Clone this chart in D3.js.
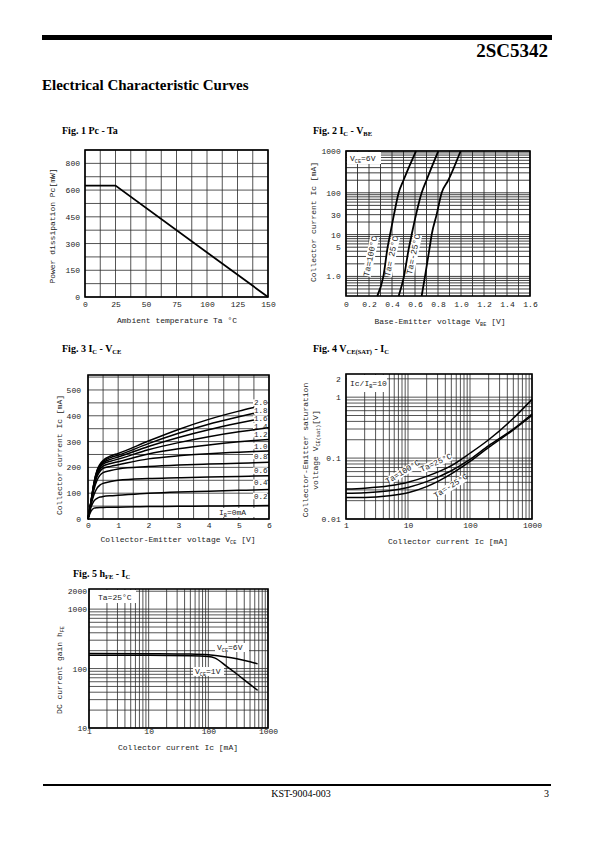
<!DOCTYPE html>
<html><head><meta charset="utf-8">
<script src="https://cdn.jsdelivr.net/npm/d3@7"></script>
<style>
body{margin:0;background:#fff}
svg{display:block}
</style></head><body>
<svg id="page" width="595" height="842"></svg>
<script>
// ---------------- DATA ----------------
// Fig 1  Pc - Ta
const taTicks = [0, 25, 50, 75, 100, 125, 150];
const pcTickVals = [0, 150, 300, 450, 600, 750];
const pcTickLabels = ["0", "150", "300", "450", "600", "800"];
const taCurve = [0, 25, 150];
const pcCurve = [625, 625, 0];

// Fig 2  Ic - Vbe
const vbeTicks = [0, 0.2, 0.4, 0.6, 0.8, 1.0, 1.2, 1.4, 1.6];
const vbeTickLabels = ["0", "0.2", "0.4", "0.6", "0.8", "1.0", "1.2", "1.4", "1.6"];
const ic2TickVals = [1, 5, 10, 30, 100, 1000];
const ic2TickLabels = ["1.0", "5", "10", "30", "100", "1000"];
const ic2Pts = [0.34, 1, 5, 10, 30, 100, 200, 1000];
const vbe100 = [0.272, 0.325, 0.362, 0.383, 0.417, 0.458, 0.50, 0.609];
const vbe25 = [0.458, 0.504, 0.548, 0.571, 0.609, 0.658, 0.70, 0.803];
const vbeM25 = [0.658, 0.687, 0.728, 0.745, 0.788, 0.832, 0.89, 0.997];
const fig2Labels = ["Ta=100°C", "Ta= 25°C", "Ta=-25°C"];

// Fig 3  Ic - Vce
const vceTicks = [0, 1, 2, 3, 4, 5, 6];
const ic3Ticks = [0, 100, 200, 300, 400, 500];
const vce3 = [0, 0.1, 0.2, 0.3, 0.4, 0.5, 0.75, 1, 2, 3, 4, 5, 5.5, 6];
const ibLabels = ["0.2", "0.4", "0.6", "0.8", "1.0", "1.2", "1.4", "1.6", "1.8", "2.0"];
const icIb02 = [0, 30, 42, 44, 45, 45, 46, 46, 48, 49, 50, 51, 51.5, 52];
const icIb04 = [0, 45, 70, 80, 85, 87, 90, 92, 100, 105, 108, 111, 112.5, 114];
const icIb06 = [0, 55, 95, 120, 132, 138, 145, 150, 157, 160, 163, 165, 166.5, 168];
const icIb08 = [0, 60, 115, 150, 170, 180, 188, 194, 203, 209, 213, 216, 218, 220];
const icIb10 = [0, 62, 125, 165, 185, 196, 204, 210, 233, 245, 253, 259, 262, 264];
const icIb12 = [0, 64, 130, 172, 193, 205, 215, 222, 252, 272, 287, 299, 304, 308];
const icIb14 = [0, 66, 135, 178, 200, 213, 224, 232, 268, 296, 319, 338, 346, 354];
const icIb16 = [0, 67, 138, 183, 205, 218, 231, 240, 281, 316, 346, 372, 384, null];
const icIb18 = [0, 68, 140, 186, 209, 222, 238, 247, 292, 332, 367, 396, 410, null];
const icIb20 = [0, 69, 142, 189, 213, 227, 244, 254, 302, 347, 386, 418, 432, null];

// Fig 4  Vce(sat) - Ic
const ic4Ticks = [1, 10, 100, 1000];
const vsatTickVals = [0.01, 0.1, 1, 2];
const vsatTickLabels = ["0.01", "0.1", "1", "2"];
const ic4 = [1, 2, 5, 10, 20, 50, 100, 200, 500, 1000];
const vsat100 = [0.031, 0.032, 0.035, 0.040, 0.050, 0.075, 0.12, 0.20, 0.45, 0.92];
const vsat25 = [0.0265, 0.027, 0.029, 0.033, 0.041, 0.062, 0.095, 0.16, 0.30, 0.53];
const vsatM25 = [0.0225, 0.0225, 0.024, 0.027, 0.034, 0.055, 0.088, 0.15, 0.29, 0.50];

// Fig 5  hFE - Ic
const ic5Ticks = [1, 10, 100, 1000];
const hfeTickVals = [10, 100, 1000, 2000];
const ic5v6 = [1, 10, 50, 100, 200, 300, 500, 670];
const hfe6V = [180, 178, 175, 170, 157, 146, 130, 120];
const ic5v1 = [1, 10, 50, 100, 130, 200, 300, 500, 670];
const hfe1V = [168, 167, 165, 160, 150, 110, 81, 54, 43];

// ---------------- DRAWING ----------------
const svg = d3.select("#page");
const SERIF = '"Liberation Serif","Times New Roman",serif';
const MONO = '"Liberation Mono","DejaVu Sans Mono",monospace';
const TXT = "#222";

function rich(g, x, y, parts, attrs) {
  const t = g.append("text").attr("x", x).attr("y", y);
  Object.entries(attrs || {}).forEach(([k, v]) => t.attr(k, v));
  let shifted = 0;
  parts.forEach(p => {
    const s = t.append("tspan").text(p[0]);
    if (p[1] === "sub") {
      s.attr("font-size", "0.65em").attr("dy", 2 - shifted); shifted = 2;
    } else if (shifted) {
      s.attr("dy", -shifted); shifted = 0;
    }
  });
  return t;
}

function logGrid(domain) {
  const out = [];
  const a = Math.floor(Math.log10(domain[0])), b = Math.ceil(Math.log10(domain[1]));
  for (let e = a; e <= b; e++) for (let m = 1; m < 10; m++) {
    const v = m * Math.pow(10, e);
    if (v >= domain[0] * 0.999 && v <= domain[1] * 1.001) out.push(v);
  }
  return out;
}
function linGrid(a, b, step) { const out = []; for (let v = a; v <= b + 1e-9; v += step) out.push(+v.toFixed(6)); return out; }

function panel(cfg) {
  const x = cfg.x, y = cfg.y;
  const [L, R] = x.range(), [B, T] = y.range();
  const g = svg.append("g");
  g.append("g").selectAll("line").data(cfg.gridX).join("line")
    .attr("x1", d => x(d)).attr("x2", d => x(d)).attr("y1", T).attr("y2", B)
    .attr("stroke", "#2a2a2a").attr("stroke-width", cfg.gw || 0.8);
  g.append("g").selectAll("line").data(cfg.gridY).join("line")
    .attr("y1", d => y(d)).attr("y2", d => y(d)).attr("x1", L).attr("x2", R)
    .attr("stroke", "#2a2a2a").attr("stroke-width", cfg.gw || 0.8);
  (cfg.boxes || []).forEach(b => g.append("rect").attr("x", b[0]).attr("y", b[1]).attr("width", b[2]).attr("height", b[3]).attr("fill", "#fff"));
  g.append("rect").attr("x", L).attr("y", T).attr("width", R - L).attr("height", B - T)
    .attr("fill", "none").attr("stroke", "#000").attr("stroke-width", 1.6);
  const ax = d3.axisBottom(x).tickValues(cfg.xTicks).tickFormat((d, i) => cfg.xLabels[i]).tickSize(0).tickPadding(cfg.xPad);
  const ay = d3.axisLeft(y).tickValues(cfg.yTicks).tickFormat((d, i) => cfg.yLabels[i]).tickSize(0).tickPadding(cfg.yPad);
  const gx = g.append("g").attr("transform", `translate(0,${B})`).call(ax);
  const gy = g.append("g").attr("transform", `translate(${L},0)`).call(ay);
  [gx, gy].forEach(s => {
    s.select(".domain").remove();
    s.attr("font-family", MONO).attr("font-size", 8).attr("color", TXT);
  });
  return g;
}

function curve(g, x, y, xs, ys, w, interp) {
  const pts = xs.map((v, i) => [v, ys[i]]).filter(p => p[1] != null);
  g.append("path").datum(pts)
    .attr("d", d3.line().x(d => x(d[0])).y(d => y(d[1])).curve(interp || d3.curveMonotoneX))
    .attr("fill", "none").attr("stroke", "#000").attr("stroke-width", w || 1.8);
}

// ---- header/footer
svg.append("rect").attr("x", 42).attr("y", 35).attr("width", 510).attr("height", 5).attr("fill", "#000");
svg.append("text").attr("x", 548).attr("y", 57).attr("text-anchor", "end")
  .attr("font-family", SERIF).attr("font-weight", "bold").attr("font-size", 19).text("2SC5342");
svg.append("text").attr("x", 42).attr("y", 90)
  .attr("font-family", SERIF).attr("font-weight", "bold").attr("font-size", 15).text("Electrical Characteristic Curves");
svg.append("rect").attr("x", 43).attr("y", 784).attr("width", 508).attr("height", 2).attr("fill", "#000");
svg.append("text").attr("x", 301).attr("y", 797).attr("text-anchor", "middle")
  .attr("font-family", SERIF).attr("font-size", 10).text("KST-9004-003");
svg.append("text").attr("x", 549).attr("y", 797).attr("text-anchor", "end")
  .attr("font-family", SERIF).attr("font-size", 10).text("3");

const titleAttrs = { "font-family": SERIF, "font-weight": "bold", "font-size": 10 };
const labAttrs = { "font-family": MONO, "font-size": 8, fill: TXT };

// ---- Fig 1
{
  const x = d3.scaleLinear().domain([0, 150]).range([85, 268]);
  const y = d3.scaleLinear().domain([0, 825]).range([297, 150]);
  const g = panel({ x, y, gridX: linGrid(0, 150, 12.5), gridY: linGrid(0, 825, 75),
    xTicks: taTicks, xLabels: taTicks.map(String), yTicks: pcTickVals, yLabels: pcTickLabels, xPad: 4.3, yPad: 5 });
  curve(g, x, y, taCurve, pcCurve, 1.8, d3.curveLinear);
  rich(svg, 62, 134, [["Fig. 1 Pc - Ta"]], titleAttrs);
  rich(svg, 177, 323, [["Ambient temperature Ta °C"]], Object.assign({ "text-anchor": "middle" }, labAttrs));
  rich(svg, 0, 0, [["Power dissipation Pc[mW]"]], Object.assign({ "text-anchor": "middle", transform: "translate(55,226) rotate(-90)" }, labAttrs));
}

// ---- Fig 2
{
  const x = d3.scaleLinear().domain([0, 1.6]).range([346, 530]);
  const y = d3.scaleLog().domain([0.34, 1000]).range([296, 151]);
  const g = panel({ x, y, gridX: linGrid(0, 1.6, 0.1), gridY: logGrid([0.34, 1000]),
    xTicks: vbeTicks, xLabels: vbeTickLabels, yTicks: ic2TickVals, yLabels: ic2TickLabels, xPad: 5.3, yPad: 5.3,
    boxes: [[347, 152, 34, 12]], gw: 0.9 });
  const lp = [[373, 257], [394, 257], [416, 255]];
  lp.forEach((p, i) => {
    const gg = g.append("g").attr("transform", `translate(${p[0]},${p[1]}) rotate(-78)`);
    gg.append("rect").attr("x", -20).attr("y", -7).attr("width", 40).attr("height", 9).attr("fill", "#fff");
    gg.append("text").attr("text-anchor", "middle").attr("font-family", MONO).attr("font-size", 8.5).attr("fill", TXT).text(fig2Labels[i]);
  });
  curve(g, x, y, vbe100, ic2Pts, 1.8);
  curve(g, x, y, vbe25, ic2Pts, 1.8);
  curve(g, x, y, vbeM25, ic2Pts, 1.8);
  rich(g, 350, 161, [["V"], ["CE", "sub"], ["=6V"]], labAttrs);
  rich(svg, 313, 134, [["Fig. 2 I"], ["C", "sub"], [" - V"], ["BE", "sub"]], titleAttrs);
  rich(svg, 440, 324, [["Base-Emitter voltage V"], ["BE", "sub"], [" [V]"]], Object.assign({ "text-anchor": "middle" }, labAttrs));
  rich(svg, 0, 0, [["Collector current Ic [mA]"]], Object.assign({ "text-anchor": "middle", transform: "translate(316,222) rotate(-90)" }, labAttrs));
}

// ---- Fig 3
{
  const x = d3.scaleLinear().domain([0, 6]).range([88, 269]);
  const y = d3.scaleLinear().domain([0, 558]).range([519, 375]);
  const g = panel({ x, y, gridX: linGrid(0, 6, 0.5), gridY: linGrid(0, 550, 50),
    xTicks: vceTicks, xLabels: vceTicks.map(String), yTicks: ic3Ticks, yLabels: ic3Ticks.map(String), xPad: 3.8, yPad: 7 });
  const series = [icIb02, icIb04, icIb06, icIb08, icIb10, icIb12, icIb14, icIb16, icIb18, icIb20];
  // label baselines (pixels) as placed in the reference, bottom (0.2) to top (2.0)
  const labelY = [498.7, 485.4, 473.4, 458.7, 448.7, 437, 428.7, 421.4, 413.4, 405.4];
  labelY.forEach((yy, i) => {
    g.append("rect").attr("x", 253).attr("y", yy - 6).attr("width", 14).attr("height", 6.5).attr("fill", "#fff");
  });
  g.append("rect").attr("x", 216).attr("y", 508).attr("width", 50).attr("height", 9).attr("fill", "#fff");
  series.forEach(s => curve(g, x, y, vce3, s, 1.5));
  labelY.forEach((yy, i) => {
    g.append("text").attr("x", 254).attr("y", yy).attr("font-family", MONO).attr("font-size", 7.5).attr("fill", TXT).text(ibLabels[i]);
  });
  rich(g, 219, 515, [["I"], ["B", "sub"], ["=0mA"]], labAttrs);
  rich(svg, 62, 352, [["Fig. 3 I"], ["C", "sub"], [" - V"], ["CE", "sub"]], titleAttrs);
  rich(svg, 178, 542, [["Collector-Emitter voltage V"], ["CE", "sub"], [" [V]"]], Object.assign({ "text-anchor": "middle" }, labAttrs));
  rich(svg, 0, 0, [["Collector current Ic [mA]"]], Object.assign({ "text-anchor": "middle", transform: "translate(62,455) rotate(-90)" }, labAttrs));
}

// ---- Fig 4
{
  const x = d3.scaleLog().domain([1, 1000]).range([346, 532]);
  const y = d3.scaleLog().domain([0.01, 2.4]).range([519, 374]);
  const g = panel({ x, y, gridX: logGrid([1, 1000]), gridY: logGrid([0.01, 2.4]),
    xTicks: ic4Ticks, xLabels: ic4Ticks.map(String), yTicks: vsatTickVals, yLabels: vsatTickLabels, xPad: 3.3, yPad: 5.3,
    boxes: [[347, 375, 40, 17]] });
  const lbl = [["Ta=100°C", 404, 474, -31], ["Ta=25°C", 437, 465, -25], ["Ta=-25°C", 452, 488, -32]];
  lbl.forEach(l => {
    const gg = g.append("g").attr("transform", `translate(${l[1]},${l[2]}) rotate(${l[3]})`);
    gg.append("rect").attr("x", -17).attr("y", -6).attr("width", 34).attr("height", 8).attr("fill", "#fff");
    gg.append("text").attr("text-anchor", "middle").attr("font-family", MONO).attr("font-size", 8).attr("fill", TXT).text(l[0]);
  });
  curve(g, x, y, ic4, vsat100, 1.5);
  curve(g, x, y, ic4, vsat25, 1.5);
  curve(g, x, y, ic4, vsatM25, 1.5);
  rich(g, 350, 386, [["Ic/I"], ["B", "sub"], ["=10"]], labAttrs);
  rich(svg, 313, 352, [["Fig. 4 V"], ["CE(SAT)", "sub"], [" - I"], ["C", "sub"]], titleAttrs);
  rich(svg, 448, 544, [["Collector current Ic [mA]"]], Object.assign({ "text-anchor": "middle" }, labAttrs));
  rich(svg, 0, 0, [["Collector-Emitter saturation"]], Object.assign({ "text-anchor": "middle", transform: "translate(308,450) rotate(-90)" }, labAttrs));
  rich(svg, 0, 0, [["voltage V"], ["CE(sat)", "sub"], ["[V]"]], Object.assign({ "text-anchor": "middle", transform: "translate(318,450) rotate(-90)" }, labAttrs));
}

// ---- Fig 5
{
  const x = d3.scaleLog().domain([1, 1000]).range([89, 268]);
  const y = d3.scaleLog().domain([10, 2180]).range([728, 589]);
  const g = panel({ x, y, gridX: logGrid([1, 1000]), gridY: logGrid([10, 2180]),
    xTicks: ic5Ticks, xLabels: ic5Ticks.map(String), yTicks: hfeTickVals, yLabels: hfeTickVals.map(String), xPad: 0.8, yPad: 2,
    boxes: [[90, 590, 46, 13], [215, 643, 34, 9], [193, 667, 31, 9]] });
  curve(g, x, y, ic5v6, hfe6V, 1.5);
  curve(g, x, y, ic5v1, hfe1V, 1.5);
  rich(g, 98, 600, [["Ta=25°C"]], labAttrs);
  rich(g, 217, 650, [["V"], ["CE", "sub"], ["=6V"]], labAttrs);
  rich(g, 195, 674, [["V"], ["CE", "sub"], ["=1V"]], labAttrs);
  rich(svg, 73, 577, [["Fig. 5 h"], ["FE", "sub"], [" - I"], ["C", "sub"]], titleAttrs);
  rich(svg, 178, 750, [["Collector current Ic [mA]"]], Object.assign({ "text-anchor": "middle" }, labAttrs));
  rich(svg, 0, 0, [["DC current gain h"], ["FE", "sub"]], Object.assign({ "text-anchor": "middle", transform: "translate(62,670) rotate(-90)" }, labAttrs));
}
</script>
</body></html>
